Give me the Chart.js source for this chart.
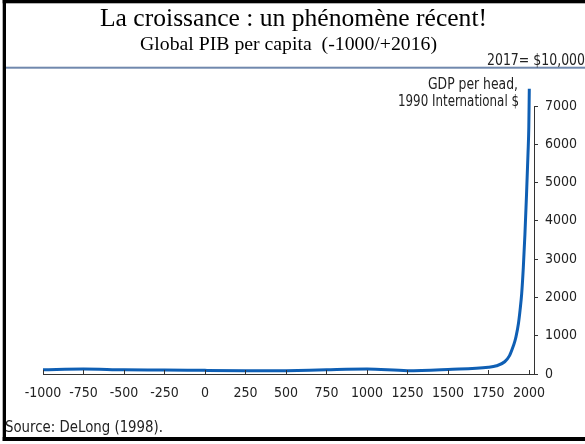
<!DOCTYPE html>
<html>
<head>
<meta charset="utf-8">
<script src="https://cdn.jsdelivr.net/npm/chart.js@4.4.0/dist/chart.umd.min.js"></script>
<style>
  html, body { margin: 0; padding: 0; background: #fff; }
  #wrap { position: relative; width: 585px; height: 444px; }
</style>
</head>
<body>
<div id="wrap"><canvas id="gdp" width="585" height="444"></canvas></div>
<script>
// values (GDP per head, 1990 international $)
const years = [-1000, -750, -500, -250, 0, 250, 400, 500, 750, 1000, 1250, 1500, 1750, 1800, 1850, 1880, 1900, 1913, 1920, 1935, 1945, 1955, 1965, 1975, 1985, 1994, 1999, 2002];
const gdpPerHead = [112, 130, 110, 105, 95, 87, 85, 87, 112, 130, 87, 120, 175, 215, 320, 480, 690, 860, 975, 1320, 1670, 2100, 2780, 3650, 4700, 5760, 6450, 7450];
const xTicks = [-1000, -750, -500, -250, 0, 250, 500, 750, 1000, 1250, 1500, 1750, 2000];
const yTicks = [0, 1000, 2000, 3000, 4000, 5000, 6000, 7000];

const title = "La croissance : un phénomène récent!";
const subtitle = "Global PIB per capita  (-1000/+2016)";
const topNote = "2017= $10,000";
const unitLines = ["GDP per head,", "1990 International $"];
const source = "Source: DeLong (1998).";

const narrow = "'DejaVu Sans Condensed', 'Liberation Sans Narrow', sans-serif";
const serif = "'Liberation Serif', 'Times New Roman', serif";

// draw text squeezed/stretched to a given width (left edge x)
function fitText(c, str, x, y, w) {
    const m = c.measureText(str).width;
    c.save();
    c.translate(x, y);
    c.scale(w / m, 1);
    c.textAlign = "left";
    c.fillText(str, 0, 0);
    c.restore();
}

// frame, headings, notes and inward x ticks
const decor = {
    id: "decor",
    beforeDraw(chart) {
        const c = chart.ctx;
        c.save();
        c.fillStyle = "#fff";
        c.fillRect(0, 0, chart.width, chart.height);
        c.restore();
    },
    afterDraw(chart) {
        const c = chart.ctx;
        const xs = chart.scales.x;
        const area = chart.chartArea;
        c.save();

        // black frame (open on the right)
        c.fillStyle = "#000";
        c.fillRect(2.7, 0, 600, 3.3);
        c.fillRect(2.7, 0, 3.3, 441);
        c.fillRect(2.7, 437, 600, 4);

        // header rule
        c.fillStyle = "#7088ad";
        c.fillRect(6, 66.7, 600, 2);

        c.fillStyle = "#000";
        c.textBaseline = "alphabetic";
        c.font = "26px " + serif;
        fitText(c, title, 100, 25.5, 387);
        c.font = "18px " + serif;
        fitText(c, subtitle, 140, 49.5, 297);

        c.font = "15px " + narrow;
        c.fillStyle = "#222";
        fitText(c, topNote, 487, 65, 98);
        fitText(c, unitLines[0], 428, 89, 90);
        fitText(c, unitLines[1], 398, 106, 121);
        fitText(c, source, 5, 432, 158);

        // x ticks point up into the plot
        c.strokeStyle = "#333";
        c.lineWidth = 1;
        xTicks.forEach(v => {
            const px = Math.round(xs.getPixelForValue(v)) + 0.5;
            c.beginPath();
            c.moveTo(px, area.bottom);
            c.lineTo(px, area.bottom - 4);
            c.stroke();
        });
        c.restore();
    }
};

new Chart(document.getElementById("gdp").getContext("2d"), {
    type: "line",
    data: {
        datasets: [{
            label: "GDP per head",
            data: years.map((y, i) => ({ x: y, y: gdpPerHead[i] })),
            borderColor: "#0f5fb4",
            borderWidth: 3,
            pointRadius: 0,
            fill: false,
            cubicInterpolationMode: "monotone",
            clip: false
        }]
    },
    options: {
        responsive: false,
        animation: false,
        layout: { padding: { top: 106, left: 43, right: 0, bottom: 0 } },
        plugins: {
            legend: { display: false },
            tooltip: { enabled: false }
        },
        scales: {
            x: {
                type: "linear",
                min: -1000,
                max: 2031,
                afterBuildTicks: scale => { scale.ticks = xTicks.map(v => ({ value: v })); },
                afterFit: scale => { scale.height = 70; },
                grid: { drawOnChartArea: false, drawTicks: false },
                border: { display: true, color: "#333", width: 1 },
                ticks: {
                    padding: 11,
                    maxRotation: 0,
                    autoSkip: false,
                    color: "#222",
                    font: { family: narrow, size: 14 },
                    callback: v => String(v)
                }
            },
            y: {
                position: "right",
                min: 0,
                max: 7000,
                afterBuildTicks: scale => { scale.ticks = yTicks.map(v => ({ value: v })); },
                afterFit: scale => { scale.width = 51; },
                grid: { drawOnChartArea: false, drawTicks: true, tickLength: 4, color: "#333" },
                border: { display: true, color: "#333", width: 1 },
                ticks: {
                    padding: 7,
                    color: "#222",
                    font: { family: narrow, size: 14 },
                    callback: v => String(v)
                }
            }
        }
    },
    plugins: [decor]
});
</script>
</body>
</html>
